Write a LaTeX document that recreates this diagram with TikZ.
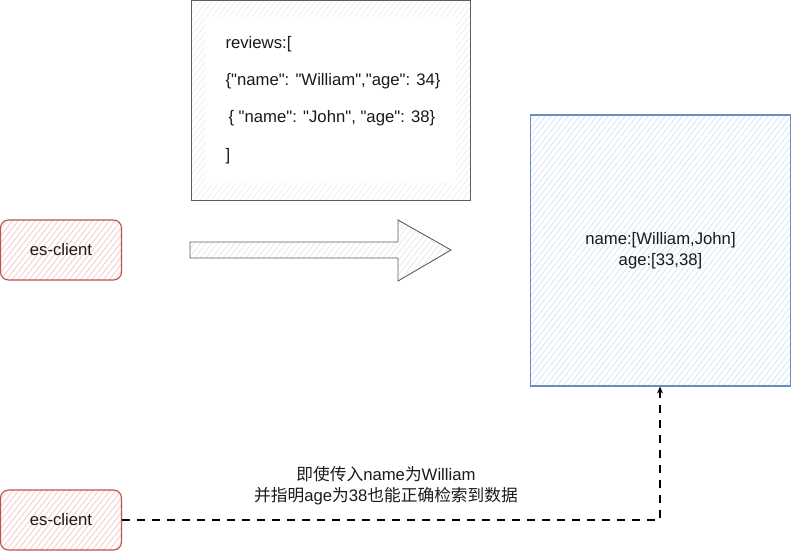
\documentclass[tikz,border=0pt]{standalone}
\usepackage{fontspec}
\setmainfont{Liberation Sans}[Ligatures=TeXOff]
\newfontfamily\cjk{Noto Sans CJK SC}
\usetikzlibrary{patterns.meta,arrows.meta}
\definecolor{redstroke}{HTML}{B85450}
\definecolor{redfill}{HTML}{F8CECC}
\definecolor{bluestroke}{HTML}{6C8EBF}
\definecolor{bluefill}{HTML}{DAE8FC}
\definecolor{graystroke}{HTML}{5E5E5E}
\definecolor{txt}{HTML}{1A1A1A}
\tikzset{
  x=1pt, y=-1pt,
  txtfont/.style={font=\fontsize{16.7}{21}\selectfont, text=txt},
  hatch/.style={preaction={fill=white}, preaction={pattern={Lines[angle=52,distance=4.5pt,line width=0.9pt]}, pattern color=#1}},
  client/.style={draw=redstroke, line width=1.1pt, rounded corners=8pt, hatch=redfill,
    minimum width=121pt, minimum height=60pt, inner sep=0pt, txtfont},
  indexbox/.style={draw=bluestroke, line width=1.1pt, hatch=bluefill,
    minimum width=260pt, minimum height=271pt, inner sep=0pt, align=center, txtfont},
  docbox/.style={draw=graystroke, line width=1pt, hatch=black!6,
    minimum width=279pt, minimum height=199pt, inner sep=0pt},
  conn/.style={draw=black, line width=1.2pt, dash pattern=on 8pt off 7pt, -{Stealth[length=7pt,width=6pt]}},
}
\begin{document}
\begin{tikzpicture}
\useasboundingbox (0,0) rectangle (791,551);
% JSON document box
\node[docbox] (doc) at (330.5,100.5) {};
\fill[white] (205,17) rectangle (456,183);
\node[txtfont, anchor=west, align=left, font=\fontsize{16.7}{37.3}\selectfont] (doctext) at (222,100)
 {reviews:[\\
 \{"name": "William","age": 34\}\\
 \hspace{3pt}\{ "name": "John", "age": 38\}\\
 ]};
% clients
\node[client] (c1) at (61,250) {es-client};
\node[client] (c2) at (61,520) {es-client};
% big arrow
\draw[graystroke, line width=0.9pt, hatch=black!8]
  (190,242) -- (398,242) -- (398,220) -- (451,250) -- (398,281) -- (398,258) -- (190,258) -- cycle;
% index box
\node[indexbox] (idx) at (660.5,250.5) {name:[William,John]\\age:[33,38]};
% connector
\coordinate (bend) at (660,520);
\draw[conn] (c2.east) -- (bend) -- (idx.south -| bend);
\node[txtfont, align=center] (lbl) at (386,485.5)
 {{\cjk 即使传入}name{\cjk 为}William\\{\cjk 并指明}age{\cjk 为}38{\cjk 也能正确检索到数据}};
\end{tikzpicture}
\end{document}
